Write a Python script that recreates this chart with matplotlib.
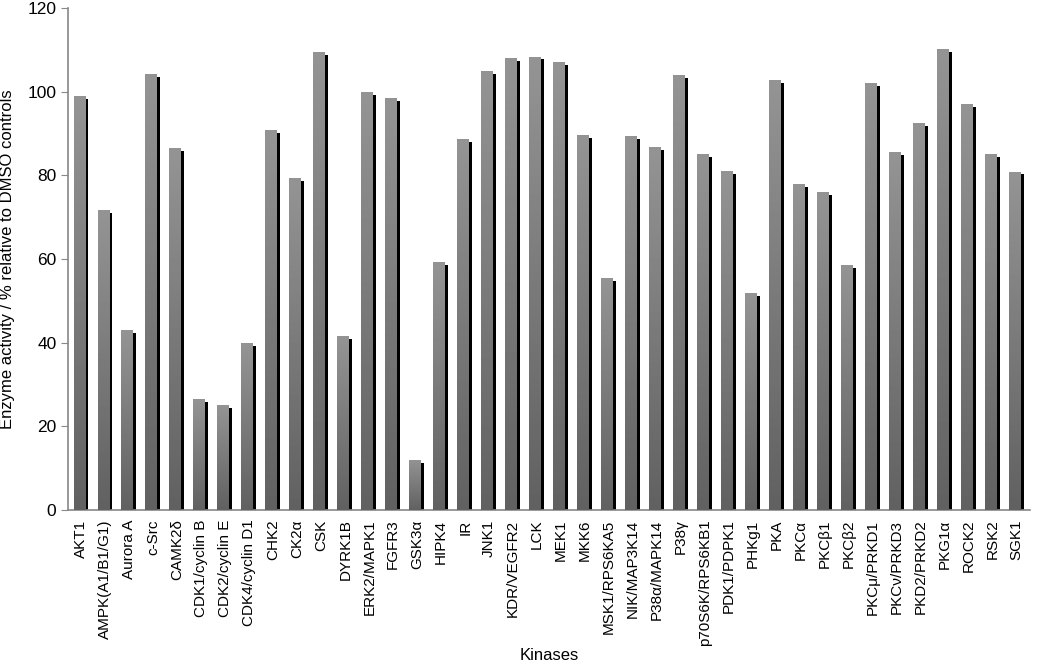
import matplotlib
matplotlib.use("Agg")
import matplotlib.pyplot as plt
import numpy as np

# === Data ===
kinases = ["AKT1", "AMPK(A1/B1/G1)", "Aurora A", "c-Src", "CAMK2δ", "CDK1/cyclin B",
           "CDK2/cyclin E", "CDK4/cyclin D1", "CHK2", "CK2α", "CSK", "DYRK1B",
           "ERK2/MAPK1", "FGFR3", "GSK3α", "HIPK4", "IR", "JNK1", "KDR/VEGFR2", "LCK",
           "MEK1", "MKK6", "MSK1/RPS6KA5", "NIK/MAP3K14", "P38α/MAPK14", "P38γ",
           "p70S6K/RPS6KB1", "PDK1/PDPK1", "PHKg1", "PKA", "PKCα", "PKCβ1", "PKCβ2",
           "PKCμ/PRKD1", "PKCν/PRKD3", "PKD2/PRKD2", "PKG1α", "ROCK2", "RSK2", "SGK1"]
activity = [98.9, 71.6, 43.0, 104.2, 86.5, 26.4, 25.0, 39.8, 90.8, 79.4,
            109.5, 41.6, 100.0, 98.5, 12.0, 59.3, 88.6, 104.9, 108.1, 108.4,
            107.0, 89.6, 55.5, 89.3, 86.8, 103.9, 85.1, 81.1, 51.8, 102.8,
            78.0, 75.9, 58.6, 102.1, 85.5, 92.5, 110.3, 97.1, 85.1, 80.9]

plt.rcParams['font.family'] = ['Liberation Sans', 'DejaVu Sans']

fig = plt.figure(figsize=(10.5, 6.7), dpi=100)
ax = fig.add_axes([0.065, 0.239, 0.916, 0.749])

x = np.arange(len(kinases))
front_w = 0.46
side_w = 0.17
front_x = x - 0.1

# black "side" of the 3D bars
ax.bar(front_x + front_w / 2 + side_w / 2 - 0.01, np.array(activity) - 0.7, width=side_w,
       color="black", zorder=2)

# gray front faces with a vertical gradient
fronts = ax.bar(front_x, activity, width=front_w, color="none", zorder=3)
grad = np.linspace(0.38, 0.58, 256).reshape(-1, 1)
for rect in fronts:
    x0, w, h = rect.get_x(), rect.get_width(), rect.get_height()
    im = ax.imshow(grad, cmap="gray", vmin=0, vmax=1, aspect="auto", origin="lower",
                   extent=(x0, x0 + w, 0, h), zorder=3, interpolation="bilinear")
    im.set_clip_path(rect)

ax.set_xlim(-0.55, len(kinases) - 0.45)
ax.set_ylim(0, 120)
ax.set_yticks(range(0, 121, 20))
ax.set_xticks(x)
ax.set_xticklabels(kinases, rotation=90, fontsize=11)
ax.tick_params(axis="y", labelsize=12.5, color="#888888", length=5)
ax.tick_params(axis="x", length=0, pad=7)

for s in ["top", "right"]:
    ax.spines[s].set_visible(False)
for s in ["left", "bottom"]:
    ax.spines[s].set_color("#888888")
    ax.spines[s].set_linewidth(1.2)

ax.set_ylabel("Enzyme activity / % relative to DMSO controls", fontsize=12, labelpad=9)
ax.set_xlabel("Kinases", fontsize=12, labelpad=1)

fig.savefig("out.png", dpi=100)
